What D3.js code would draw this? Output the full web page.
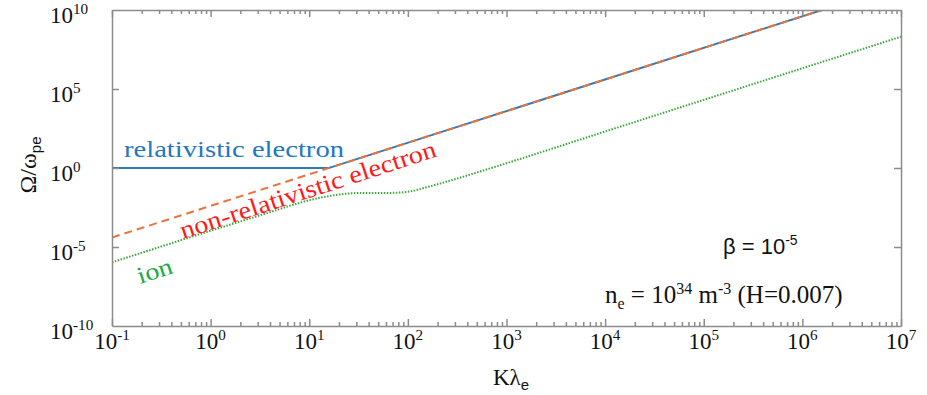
<!DOCTYPE html>
<html>
<head>
<meta charset="utf-8">
<script src="https://cdn.jsdelivr.net/npm/d3@7"></script>
<style>
  body { margin: 0; background: #fff; }
  svg { display: block; }
</style>
</head>
<body>
<svg id="chart" width="927" height="395"></svg>
<script>
// Values (K lambda_e, Omega / omega_pe)
const relK = [0.1, 14, 16, 17.5, 1.58e6];
const relW = [1, 1, 1.04, 1.225, 1e10];

const nonRelK = [0.1, 1.58e6];
const nonRelW = [4e-5, 1e10];

const ionK = [0.1, 1, 4, 8, 12.6, 20, 31.6, 50, 79, 112, 158, 251, 500, 1000, 1e4, 1e7];
const ionW = [1.07e-6, 1.07e-4, 1.6e-3, 6.3e-3, 1.26e-2, 2.1e-2, 2.6e-2, 2.6e-2, 2.75e-2,
              3.55e-2, 6.3e-2, 0.14, 0.52, 2.0, 204, 2.04e8];

const xExps = [-1, 0, 1, 2, 3, 4, 5, 6, 7];
const yExps = [-10, -5, 0, 5, 10];

const SERIF = '"Liberation Serif", "Times New Roman", Times, serif';
const SANS = '"Liberation Sans", Arial, sans-serif';
const axisColor = '#8c8c8c';

const svg = d3.select('#chart');
const plotLeft = 112, plotRight = 901, plotTop = 10, plotBottom = 326;

const x = d3.scaleLog().domain([1e-1, 1e7]).range([plotLeft, plotRight]);
const y = d3.scaleLog().domain([1e-10, 1e10]).range([plotBottom, plotTop]);

// clip for the curves
svg.append('defs').append('clipPath').attr('id', 'plotClip')
    .append('rect')
    .attr('x', plotLeft).attr('y', plotTop)
    .attr('width', plotRight - plotLeft).attr('height', plotBottom - plotTop);

const linear = d3.line().x(d => x(d[0])).y(d => y(d[1]));
const smooth = d3.line().x(d => x(d[0])).y(d => y(d[1])).curve(d3.curveMonotoneX);

const curves = svg.append('g').attr('clip-path', 'url(#plotClip)');

// relativistic electron (solid blue), drawn under the dashed one
curves.append('path')
    .datum(relK.map((k, i) => [k, relW[i]]))
    .attr('d', linear)
    .attr('fill', 'none')
    .attr('stroke', '#2b7bbf')
    .attr('stroke-width', 2);

// non-relativistic electron (dashed orange)
curves.append('path')
    .datum(nonRelK.map((k, i) => [k, nonRelW[i]]))
    .attr('d', linear)
    .attr('fill', 'none')
    .attr('stroke', '#e8743b')
    .attr('stroke-width', 2)
    .attr('stroke-dasharray', '8,5');

// ion (dotted green)
curves.append('path')
    .datum(ionK.map((k, i) => [k, ionW[i]]))
    .attr('d', smooth)
    .attr('fill', 'none')
    .attr('stroke', '#3aa63a')
    .attr('stroke-width', 2)
    .attr('stroke-dasharray', '1.5,1.5');

// x ticks: majors at decades, minors at 2..9
const xTicks = [];
xExps.forEach(e => {
    for (let m = 1; m <= 9; m++) {
        const v = m * Math.pow(10, e);
        if (v <= 1e7 * 1.0001) xTicks.push(v);
    }
});
const isMajor = v => Math.abs(Math.log10(v) - Math.round(Math.log10(v))) < 1e-6;

const xBottom = svg.append('g')
    .attr('transform', `translate(0,${plotBottom})`)
    .call(d3.axisBottom(x).tickValues(xTicks).tickFormat('').tickSizeOuter(0).tickSizeInner(-7));
const xTop = svg.append('g')
    .attr('transform', `translate(0,${plotTop})`)
    .call(d3.axisTop(x).tickValues(xTicks).tickFormat('').tickSizeOuter(0).tickSizeInner(-7));
xBottom.selectAll('.tick line').attr('y2', d => isMajor(d) ? -7 : -4);
xTop.selectAll('.tick line').attr('y2', d => isMajor(d) ? 7 : 4);

const yMajors = [1e-5, 1, 1e5];
svg.append('g')
    .attr('transform', `translate(${plotLeft},0)`)
    .call(d3.axisLeft(y).tickValues(yMajors).tickFormat('').tickSizeOuter(0).tickSizeInner(-7));
svg.append('g')
    .attr('transform', `translate(${plotRight},0)`)
    .call(d3.axisRight(y).tickValues(yMajors).tickFormat('').tickSizeOuter(0).tickSizeInner(-7));

svg.selectAll('.domain, .tick line')
    .attr('stroke', axisColor)
    .attr('stroke-width', 1.5);

const labels = svg.append('g');

// tick labels with superscripts
function powLabel(g, exp, size) {
    g.append('tspan').text('10');
    g.append('tspan').text(exp < 0 ? '-' + (-exp) : String(exp))
        .attr('font-size', size * 0.66)
        .attr('dy', -size * 0.4);
}

xExps.forEach(e => {
    const t = labels.append('text')
        .attr('x', x(Math.pow(10, e)))
        .attr('y', 349)
        .attr('text-anchor', 'middle')
        .attr('font-size', 23)
        .attr('fill', '#111');
    powLabel(t, e, 23);
});

yExps.forEach(e => {
    const t = labels.append('text')
        .attr('x', 50)
        .attr('y', y(Math.pow(10, e)) + 13)
        .attr('font-size', 23)
        .attr('fill', '#111');
    powLabel(t, e, 23);
});

// axis titles
const xTitle = labels.append('text')
    .attr('x', 511).attr('y', 385)
    .attr('text-anchor', 'middle')
    .attr('font-size', 23)
    .attr('fill', '#111');
xTitle.append('tspan').text('Kλ');
xTitle.append('tspan').text('e').attr('class', 'sub-sans').attr('font-size', 15).attr('dy', 5);

const yTitle = labels.append('text')
    .attr('transform', 'translate(36,165) rotate(-90)')
    .attr('text-anchor', 'middle')
    .attr('font-size', 24)
    .attr('fill', '#111');
yTitle.append('tspan').text('Ω/ω');
yTitle.append('tspan').text('pe').attr('class', 'sub-sans').attr('font-size', 15).attr('dy', 5);

// curve labels (stretched to the widths seen in the picture)
labels.append('text')
    .attr('x', 124).attr('y', 157)
    .attr('font-size', 24)
    .attr('fill', '#1f78c1')
    .attr('textLength', 220)
    .attr('lengthAdjust', 'spacingAndGlyphs')
    .text('relativistic electron');

labels.append('text')
    .attr('transform', 'translate(183,239) rotate(-18)')
    .attr('font-size', 25)
    .attr('fill', '#ff1a1a')
    .attr('textLength', 268)
    .attr('lengthAdjust', 'spacingAndGlyphs')
    .text('non-relativistic electron');

labels.append('text')
    .attr('transform', 'translate(140,284) rotate(-18)')
    .attr('font-size', 24)
    .attr('fill', '#1faa4a')
    .attr('textLength', 36)
    .attr('lengthAdjust', 'spacingAndGlyphs')
    .text('ion');

// parameter notes
const beta = labels.append('text')
    .attr('class', 'sub-sans')
    .attr('x', 723).attr('y', 254)
    .attr('font-size', 22)
    .attr('fill', '#111');
beta.append('tspan').text('β = 10');
beta.append('tspan').text('-5').attr('font-size', 14).attr('dy', -9);

const dens = labels.append('text')
    .attr('x', 605).attr('y', 303)
    .attr('font-size', 25)
    .attr('fill', '#111');
dens.append('tspan').text('n');
dens.append('tspan').text('e').attr('font-size', 16).attr('dy', 6);
dens.append('tspan').text(' = 10').attr('dy', -6);
dens.append('tspan').text('34').attr('font-size', 16).attr('dy', -9);
dens.append('tspan').text(' m').attr('dy', 9);
dens.append('tspan').text('-3').attr('font-size', 16).attr('dy', -9);
dens.append('tspan').text(' (H=0.007)').attr('dy', 9);

// fonts as inline styles so nothing else overrides them
labels.selectAll('text, tspan').style('font-family', SERIF, 'important');
labels.selectAll('.sub-sans, .sub-sans tspan').style('font-family', SANS, 'important');
</script>
</body>
</html>
